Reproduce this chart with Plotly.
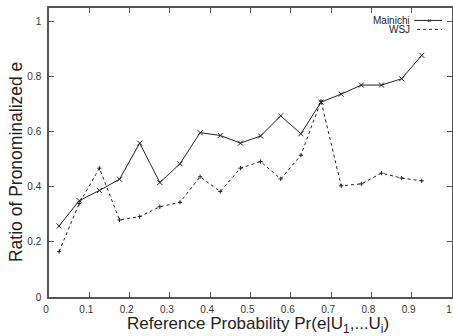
import plotly.graph_objects as go

x_vals = [0.025, 0.075, 0.125, 0.175, 0.225, 0.275, 0.325, 0.375, 0.425, 0.475,
          0.525, 0.575, 0.625, 0.675, 0.725, 0.775, 0.825, 0.875, 0.925]
mainichi = [0.258, 0.350, 0.387, 0.428, 0.559, 0.416, 0.484, 0.597, 0.587, 0.559,
            0.585, 0.658, 0.593, 0.708, 0.737, 0.770, 0.770, 0.793, 0.878]
wsj = [0.165, 0.340, 0.468, 0.280, 0.292, 0.328, 0.344, 0.437, 0.383, 0.468,
       0.492, 0.429, 0.515, 0.712, 0.404, 0.411, 0.450, 0.432, 0.422]
x_ticks = [0, 0.1, 0.2, 0.3, 0.4, 0.5, 0.6, 0.7, 0.8, 0.9, 1]
x_tick_labels = ["0", "0.1", "0.2", "0.3", "0.4", "0.5", "0.6", "0.7", "0.8", "0.9", "1"]
y_ticks = [0, 0.2, 0.4, 0.6, 0.8, 1]
y_tick_labels = ["0", "0.2", "0.4", "0.6", "0.8", "1"]
x_title = "Reference Probability Pr(e|U<sub>1</sub>,...U<sub>i</sub>)"
y_title = "Ratio of Pronominalized e"

FONT = "Liberation Sans, Arial, sans-serif"

fig = go.Figure()
fig.add_trace(go.Scatter(
    x=x_vals, y=mainichi, mode="lines+markers", name="Mainichi",
    line=dict(color="#222", width=1),
    marker=dict(symbol="x-thin", size=5, line=dict(color="#222", width=1)),
    showlegend=False))
fig.add_trace(go.Scatter(
    x=x_vals, y=wsj, mode="lines+markers", name="WSJ",
    line=dict(color="#222", width=1, dash="3px,3px"),
    marker=dict(symbol="cross-thin", size=3, line=dict(color="#222", width=1)),
    showlegend=False))

axis_common = dict(
    showline=True, linecolor="#555", linewidth=1.5, mirror="allticks",
    ticks="inside", ticklen=5, tickwidth=1, tickcolor="#555",
    showgrid=False, zeroline=False, automargin=False,
    tickfont=dict(family=FONT, size=10, color="#333"),
)

fig.update_xaxes(range=[0, 1], tickvals=x_ticks, ticktext=x_tick_labels,
                 ticklabelstandoff=2, ticklabelshift=-3, **axis_common)
fig.update_yaxes(range=[0, 1.05], tickvals=y_ticks, ticktext=y_tick_labels,
                 ticklabelstandoff=4, **axis_common)

# axis titles
fig.add_annotation(xref="paper", yref="paper", x=0.519, y=0, yshift=-28,
                   text=x_title, showarrow=False, xanchor="center", yanchor="middle",
                   font=dict(family=FONT, size=17, color="#222"))
fig.add_annotation(xref="paper", yref="paper", x=0, xshift=-33, y=0.467,
                   text=y_title, textangle=-90, showarrow=False,
                   xanchor="center", yanchor="middle",
                   font=dict(family=FONT, size=17.5, color="#222"))

# gnuplot-style key: text on the left, line sample on the right
fig.add_annotation(xref="paper", yref="paper", x=0.898, y=0.957, text="Mainichi",
                   showarrow=False, xanchor="right", yanchor="middle", borderpad=0,
                   height=9, valign="middle",
                   font=dict(family=FONT, size=10, color="#222"))
fig.add_annotation(xref="paper", yref="paper", x=0.898, y=0.926, text="WSJ",
                   showarrow=False, xanchor="right", yanchor="middle", borderpad=0,
                   height=9, valign="middle",
                   font=dict(family=FONT, size=10, color="#222"))
fig.add_shape(type="line", xref="paper", yref="paper", x0=0.906, x1=0.975,
              y0=0.957, y1=0.957, line=dict(color="#222", width=1))
fig.add_shape(type="line", xref="paper", yref="paper", x0=0.913, x1=0.975,
              y0=0.926, y1=0.926, line=dict(color="#222", width=1, dash="3px,3px"))
fig.add_annotation(xref="paper", yref="paper", x=0.943, y=0.957, text="×",
                   showarrow=False, xanchor="center", yanchor="middle", borderpad=0,
                   font=dict(family=FONT, size=8, color="#222"))

fig.update_layout(
    width=453, height=336,
    margin=dict(l=49, r=1, t=8, b=39),
    paper_bgcolor="white", plot_bgcolor="white",
    font=dict(family=FONT),
)

fig.write_html("out.html",
               config={"displayModeBar": False},
               post_script="document.body.style.margin='0';"
                           "document.body.style.overflow='hidden';")
